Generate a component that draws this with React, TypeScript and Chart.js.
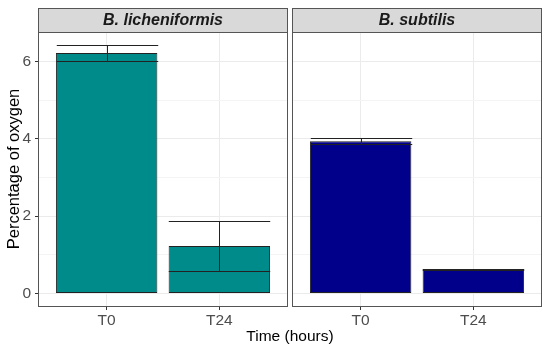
import React, { useEffect, useRef } from "react";
import { Chart, registerables } from "chart.js";

Chart.register(...registerables);

const categories = ["T0", "T24"];
const panels = ["B. licheniformis", "B. subtilis"];
const lichenMeans = [6.22, 1.23];
const lichenErrors = [0.21, 0.645];
const subtilisMeans = [3.94, 0.63];
const subtilisErrors = [0.08, 0.01];
const panelColors = ["#008B8B", "#00008B"];
const yMajorTicks = [0, 2, 4, 6];
const yMinorTicks = [1, 3, 5];
const yMin = -0.32;
const yMax = 6.76;
const yTitle = "Percentage of oxygen";
const xTitle = "Time (hours)";

const FONT = "'Liberation Sans', Arial, sans-serif";

function makeChart(
  canvas: HTMLCanvasElement,
  panelIndex: number,
  means: number[],
  errors: number[],
  showY: boolean
) {
  const overlay = {
    id: "facetOverlay",
    afterDatasetsDraw(chart: any) {
      const ctx = chart.ctx;
      const xs = chart.scales.x;
      const ys = chart.scales.y;
      const meta = chart.getDatasetMeta(0);
      ctx.save();
      ctx.strokeStyle = "#222";
      ctx.lineWidth = 1;
      means.forEach((m, i) => {
        const cx = Math.round(xs.getPixelForValue(i)) + 0.5;
        const half = meta.data[i].width / 2;
        const yt = Math.round(ys.getPixelForValue(m + errors[i])) + 0.5;
        const yb = Math.round(ys.getPixelForValue(m - errors[i])) + 0.5;
        ctx.beginPath();
        ctx.moveTo(cx - half, yt);
        ctx.lineTo(cx + half, yt);
        ctx.moveTo(cx, yt);
        ctx.lineTo(cx, yb);
        ctx.moveTo(cx - half, yb);
        ctx.lineTo(cx + half, yb);
        ctx.stroke();
      });
      ctx.restore();
    },
    afterDraw(chart: any) {
      const ctx = chart.ctx;
      const a = chart.chartArea;
      ctx.save();
      const stripTop = 8;
      ctx.fillStyle = "#D9D9D9";
      ctx.fillRect(a.left - 1, stripTop, a.right - a.left + 2, a.top - stripTop);
      ctx.strokeStyle = "#555";
      ctx.lineWidth = 1;
      ctx.strokeRect(a.left - 0.5, stripTop + 0.5, a.right - a.left + 1, a.top - stripTop);
      ctx.fillStyle = "#1A1A1A";
      ctx.font = `italic bold 16px ${FONT}`;
      ctx.textAlign = "center";
      ctx.textBaseline = "middle";
      ctx.fillText(panels[panelIndex], (a.left + a.right) / 2, (stripTop + a.top) / 2 + 1);
      ctx.strokeRect(a.left - 0.5, a.top + 0.5, a.right - a.left + 1, a.bottom - a.top);
      ctx.restore();
    },
  };

  return new Chart(canvas, {
    type: "bar",
    data: {
      datasets: [
        {
          data: means.map((m, i) => ({ x: i, y: m })),
          backgroundColor: panelColors[panelIndex],
          borderColor: "#222",
          borderWidth: 1,
          borderSkipped: false,
          barPercentage: 0.9,
          categoryPercentage: 1,
        },
      ],
    },
    options: {
      responsive: false,
      animation: false,
      devicePixelRatio: 1,
      layout: {
        padding: showY
          ? { left: 0, right: 3, top: 32, bottom: 0 }
          : { left: 3, right: 9, top: 32, bottom: 0 },
      },
      plugins: { legend: { display: false }, tooltip: { enabled: false } },
      scales: {
        x: {
          type: "linear",
          min: -0.6,
          max: 1.6,
          offset: false,
          afterBuildTicks: (s: any) => {
            s.ticks = categories.map((_, i) => ({ value: i }));
          },
          afterFit: (s: any) => {
            s.height = 46;
          },
          ticks: {
            autoSkip: false,
            padding: 1,
            color: "#4D4D4D",
            font: { family: FONT, size: 15.5 },
            callback: (v: any) => categories[v] ?? "",
          },
          grid: {
            offset: false,
            color: "#EBEBEB",
            lineWidth: 1,
            drawTicks: true,
            tickLength: 4,
            tickColor: "#333",
          },
          border: { display: false },
        },
        y: {
          type: "linear",
          min: yMin,
          max: yMax,
          afterBuildTicks: (s: any) => {
            s.ticks = [...yMajorTicks, ...yMinorTicks]
              .sort((p, q) => p - q)
              .map((v) => ({ value: v }));
          },
          afterFit: (s: any) => {
            s.width = showY ? 39 : 0;
          },
          title: {
            display: showY,
            text: yTitle,
            color: "#000",
            font: { family: FONT, size: 16.5 },
            padding: { top: 5, bottom: 0 },
          },
          ticks: {
            display: showY,
            autoSkip: false,
            padding: 4,
            color: "#4D4D4D",
            font: { family: FONT, size: 15.5 },
            callback: (v: any) => (yMajorTicks.includes(v) ? String(v) : ""),
          },
          grid: {
            color: (c: any) =>
              yMajorTicks.includes(c.tick?.value) ? "#EBEBEB" : "#F4F4F4",
            lineWidth: 1,
            drawTicks: showY,
            tickLength: 4,
            tickColor: (c: any) =>
              yMajorTicks.includes(c.tick?.value) ? "#333" : "rgba(0,0,0,0)",
          },
          border: { display: false },
        },
      },
    },
    plugins: [overlay],
  } as any);
}

export default function App() {
  const leftRef = useRef<HTMLCanvasElement>(null);
  const rightRef = useRef<HTMLCanvasElement>(null);

  useEffect(() => {
    const c1 = makeChart(leftRef.current!, 0, lichenMeans, lichenErrors, true);
    const c2 = makeChart(rightRef.current!, 1, subtilisMeans, subtilisErrors, false);
    return () => {
      c1.destroy();
      c2.destroy();
    };
  }, []);

  return (
    <div
      style={{
        position: "fixed",
        left: 0,
        top: 0,
        width: 550,
        height: 352,
        background: "#fff",
        overflow: "hidden",
      }}
    >
      <canvas
        ref={leftRef}
        width={290}
        height={352}
        style={{ position: "absolute", left: 0, top: 0, width: 290, height: 352 }}
      />
      <canvas
        ref={rightRef}
        width={260}
        height={352}
        style={{ position: "absolute", left: 290, top: 0, width: 260, height: 352 }}
      />
      <div
        style={{
          position: "absolute",
          left: 0,
          width: 580,
          top: 327,
          textAlign: "center",
          fontFamily: FONT,
          fontSize: 15.5,
          lineHeight: "18px",
          color: "#000",
        }}
      >
        {xTitle}
      </div>
    </div>
  );
}
